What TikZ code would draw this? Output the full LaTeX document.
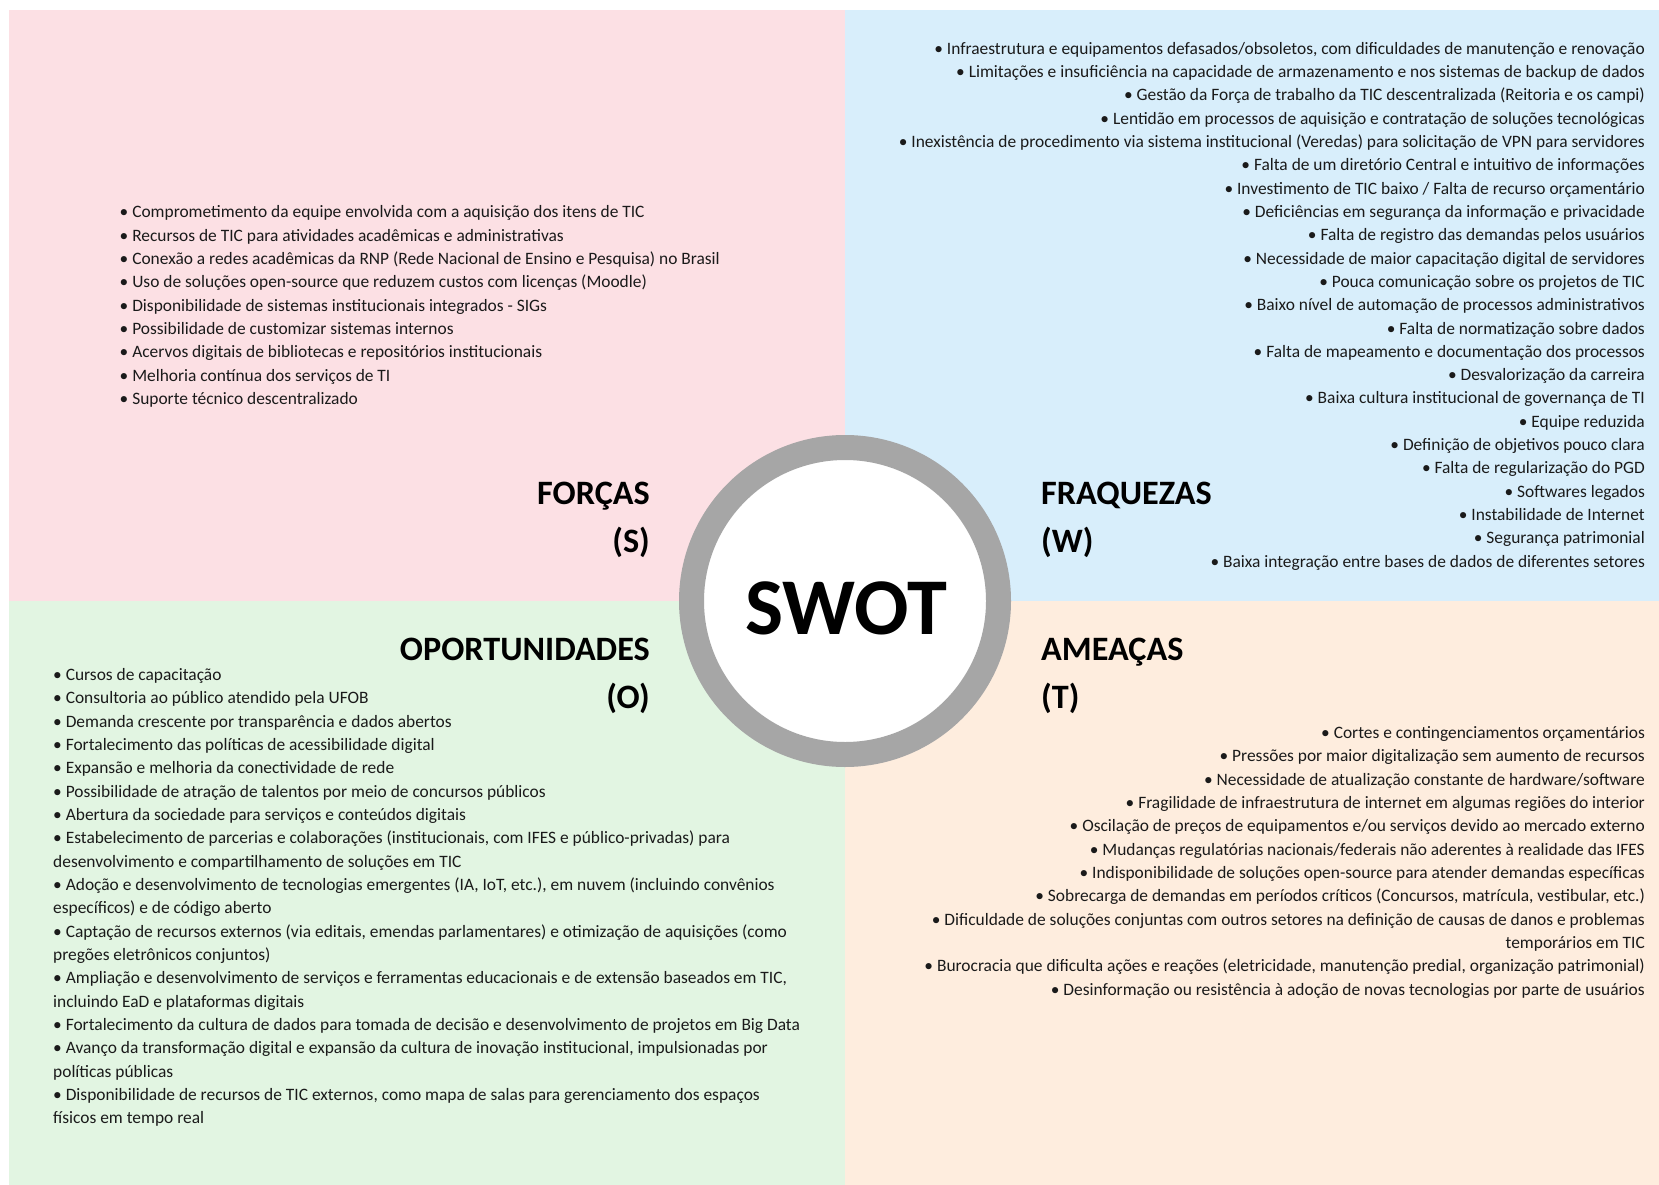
\documentclass[tikz,border=0pt]{standalone}
\usepackage{fontspec}
\setmainfont{Carlito}
\definecolor{pinkq}{HTML}{FCE0E4}
\definecolor{blueq}{HTML}{D8EEFB}
\definecolor{greenq}{HTML}{E2F5E2}
\definecolor{orangeq}{HTML}{FEEDDE}
\definecolor{ringgray}{HTML}{A6A6A6}
\definecolor{bodytext}{HTML}{1A1A1A}
\begin{document}
\begin{tikzpicture}[x=1pt,y=-1pt,
  body/.style={font=\fontsize{17.4}{23.33}\selectfont, inner sep=0pt, text=bodytext},
  title/.style={font=\fontsize{34.2}{40}\selectfont\bfseries, inner sep=0pt, text=black},
]
\useasboundingbox (0,0) rectangle (1659,1185);
\fill[white] (0,0) rectangle (1659,1185);
% quadrants
\fill[pinkq] (9,10) rectangle (845,601);
\fill[blueq] (845,10) rectangle (1659,601);
\fill[greenq] (9,601) rectangle (845,1185);
\fill[orangeq] (845,601) rectangle (1659,1185);

% centre ring
\node[circle, draw=ringgray, line width=25pt, fill=white, minimum size=307pt, inner sep=0pt] (ring) at (845,601) {};
\node[font=\fontsize{80.5}{80}\selectfont\bfseries, anchor=base, inner sep=0pt] (swot) at (846,634) {SWOT};

% titles
\node[title, anchor=base east] (stitle) at (650,504) {FORÇAS};
\node[title, anchor=base east] (sletter) at (650,552) {(S)};
\node[title, anchor=base west] (wtitle) at (1041,504) {FRAQUEZAS};
\node[title, anchor=base west] (wletter) at (1041,552) {(W)};
\node[title, anchor=base east] (otitle) at (650,660) {OPORTUNIDADES};
\node[title, anchor=base east] (oletter) at (650,708) {(O)};
\node[title, anchor=base west] (ttitle) at (1041,660) {AMEAÇAS};
\node[title, anchor=base west] (tletter) at (1041,708) {(T)};

% strengths (anchor = baseline of last line)
\node[body, align=left, anchor=base west] (slist) at (119.5,404.6) {%
• Comprometimento da equipe envolvida com a aquisição dos itens de TIC\\
• Recursos de TIC para atividades acadêmicas e administrativas\\
• Conexão a redes acadêmicas da RNP (Rede Nacional de Ensino e Pesquisa) no Brasil\\
• Uso de soluções open-source que reduzem custos com licenças (Moodle)\\
• Disponibilidade de sistemas institucionais integrados - SIGs\\
• Possibilidade de customizar sistemas internos\\
• Acervos digitais de bibliotecas e repositórios institucionais\\
• Melhoria contínua dos serviços de TI\\
• Suporte técnico descentralizado};

% weaknesses
\node[body, align=right, anchor=base east] (wlist) at (1645,567.3) {%
• Infraestrutura e equipamentos defasados/obsoletos, com dificuldades de manutenção e renovação\\
• Limitações e insuficiência na capacidade de armazenamento e nos sistemas de backup de dados\\
• Gestão da Força de trabalho da TIC descentralizada (Reitoria e os campi)\\
• Lentidão em processos de aquisição e contratação de soluções tecnológicas\\
• Inexistência de procedimento via sistema institucional (Veredas) para solicitação de VPN para servidores\\
• Falta de um diretório Central e intuitivo de informações\\
• Investimento de TIC baixo / Falta de recurso orçamentário\\
• Deficiências em segurança da informação e privacidade\\
• Falta de registro das demandas pelos usuários\\
• Necessidade de maior capacitação digital de servidores\\
• Pouca comunicação sobre os projetos de TIC\\
• Baixo nível de automação de processos administrativos\\
• Falta de normatização sobre dados\\
• Falta de mapeamento e documentação dos processos\\
• Desvalorização da carreira\\
• Baixa cultura institucional de governança de TI\\
• Equipe reduzida\hspace*{4pt}\\
• Definição de objetivos pouco clara\\
• Falta de regularização do PGD\hspace*{4pt}\\
• Softwares legados\\
• Instabilidade de Internet\\
• Segurança patrimonial\\
• Baixa integração entre bases de dados de diferentes setores};

% opportunities
\node[body, align=left, anchor=base west] (olist) at (53,1123.8) {%
• Cursos de capacitação\\
• Consultoria ao público atendido pela UFOB\\
• Demanda crescente por transparência e dados abertos\\
• Fortalecimento das políticas de acessibilidade digital\\
• Expansão e melhoria da conectividade de rede\\
• Possibilidade de atração de talentos por meio de concursos públicos\\
• Abertura da sociedade para serviços e conteúdos digitais\\
• Estabelecimento de parcerias e colaborações (institucionais, com IFES e público-privadas) para\\
desenvolvimento e compartilhamento de soluções em TIC\\
• Adoção e desenvolvimento de tecnologias emergentes (IA, IoT, etc.), em nuvem (incluindo convênios\\
específicos) e de código aberto\\
• Captação de recursos externos (via editais, emendas parlamentares) e otimização de aquisições (como\\
pregões eletrônicos conjuntos)\\
• Ampliação e desenvolvimento de serviços e ferramentas educacionais e de extensão baseados em TIC,\\
incluindo EaD e plataformas digitais\\
• Fortalecimento da cultura de dados para tomada de decisão e desenvolvimento de projetos em Big Data\\
• Avanço da transformação digital e expansão da cultura de inovação institucional, impulsionadas por\\
políticas públicas\\
• Disponibilidade de recursos de TIC externos, como mapa de salas para gerenciamento dos espaços\\
físicos em tempo real};

% threats
\node[body, align=right, anchor=base east] (tlist) at (1645,995.1) {%
• Cortes e contingenciamentos orçamentários\\
• Pressões por maior digitalização sem aumento de recursos\\
• Necessidade de atualização constante de hardware/software\\
• Fragilidade de infraestrutura de internet em algumas regiões do interior\\
• Oscilação de preços de equipamentos e/ou serviços devido ao mercado externo\\
• Mudanças regulatórias nacionais/federais não aderentes à realidade das IFES\\
• Indisponibilidade de soluções open-source para atender demandas específicas\\
• Sobrecarga de demandas em períodos críticos (Concursos, matrícula, vestibular, etc.)\\
• Dificuldade de soluções conjuntas com outros setores na definição de causas de danos e problemas\\
temporários em TIC\\
• Burocracia que dificulta ações e reações (eletricidade, manutenção predial, organização patrimonial)\\
• Desinformação ou resistência à adoção de novas tecnologias por parte de usuários};
\end{tikzpicture}
\end{document}
